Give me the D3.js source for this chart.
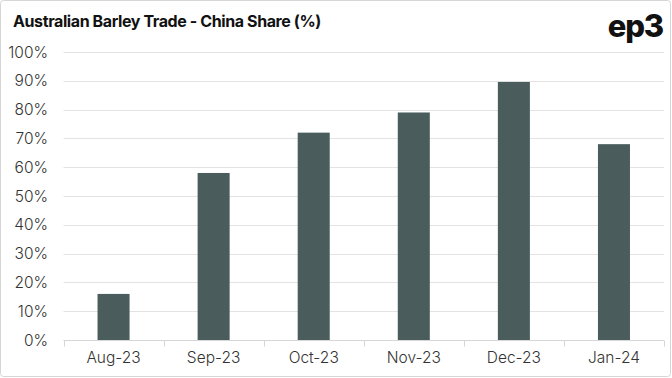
<!DOCTYPE html>
<html><head><meta charset="utf-8">
<script src="https://cdn.jsdelivr.net/npm/d3@7"></script>
<style>html,body{margin:0;padding:0;background:#fff;}svg{display:block;}</style>
</head><body>
<svg id="c" width="672" height="378"></svg>
<script>
const categories = ["Aug-23","Sep-23","Oct-23","Nov-23","Dec-23","Jan-24"];
const values = [16, 58, 72, 79, 89.6, 68];
const yTicks = [0,10,20,30,40,50,60,70,80,90,100];
const title = "Australian Barley Trade - China Share (%)";

const svg = d3.select("#c");
const W = 672, H = 378;
const m = {l:63.5, r:8, t:52, b:38};

svg.append("rect").attr("x",0.5).attr("y",0.5).attr("width",W-2).attr("height",H-2)
  .attr("rx",3).attr("fill","#fff").attr("stroke","#d6d6d6");

const x = d3.scaleBand().domain(categories).range([m.l, W-m.r]).paddingInner(0.68).paddingOuter(0.34);
const y = d3.scaleLinear().domain([0,100]).range([H-m.b, m.t]);

const font = "Inter, 'Open Sans', sans-serif";

// gridlines
svg.append("g").selectAll("line").data(yTicks.filter(d=>d>0)).join("line")
  .attr("x1", m.l).attr("x2", W-m.r)
  .attr("y1", d=>Math.round(y(d))+0.5).attr("y2", d=>Math.round(y(d))+0.5)
  .attr("stroke","#e3e3e3").attr("stroke-width",1);

// y labels
svg.append("g").selectAll("text").data(yTicks).join("text")
  .attr("x", 48).attr("y", d=>y(d)).attr("dy","0.36em")
  .attr("text-anchor","end").attr("font-family",font).attr("font-size",15.5)
  .attr("font-weight",300).attr("fill","#333").text(d=>d+"%");

// bars
svg.append("g").selectAll("rect").data(values).join("rect")
  .attr("x",(d,i)=>x(categories[i])).attr("width",x.bandwidth())
  .attr("y",d=>y(d)).attr("height",d=>y(0)-y(d))
  .attr("fill","#4a5c5c");

// x axis line and ticks
const y0 = Math.round(y(0))+0.5;
svg.append("line").attr("x1",m.l).attr("x2",W-m.r).attr("y1",y0).attr("y2",y0)
  .attr("stroke","#d6d6d6");
const step = x.step();
const bounds = d3.range(categories.length+1).map(i=>m.l + i*step);
svg.append("g").selectAll("line").data(bounds).join("line")
  .attr("x1",d=>Math.round(d)+0.5).attr("x2",d=>Math.round(d)+0.5)
  .attr("y1",y0).attr("y2",y0+6).attr("stroke","#d6d6d6");

// x labels
svg.append("g").selectAll("text").data(categories).join("text")
  .attr("x",d=>x(d)+x.bandwidth()/2).attr("y",363)
  .attr("text-anchor","middle").attr("font-family",font).attr("font-size",15.5)
  .attr("font-weight",300).attr("fill","#333").text(d=>d);

// title
svg.append("text").attr("x",13).attr("y",27).attr("font-family",font)
  .attr("font-size",16).attr("letter-spacing",-0.4).attr("font-weight",700).attr("fill","#111").text(title);

// logo
svg.append("text").attr("x",663).attr("y",37).attr("text-anchor","end")
  .attr("font-family",font).attr("font-size",31).attr("font-weight",800)
  .attr("letter-spacing",-1.2).attr("fill","#111").text("ep3");
</script>
</body></html>
